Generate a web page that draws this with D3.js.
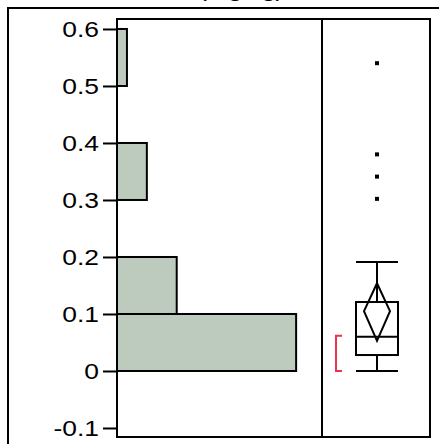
<!DOCTYPE html>
<html>
<head>
<meta charset="utf-8">
<script src="https://cdn.jsdelivr.net/npm/d3@7"></script>
<style>
  body { margin: 0; background: #fff; }
  text { font-family: "Liberation Sans", Arial, sans-serif; }
</style>
</head>
<body>
<div id="chart"></div>
<script>
// histogram bins (lower edge, upper edge, count)
const binLo = [0, 0.1, 0.3, 0.5];
const binHi = [0.1, 0.2, 0.4, 0.6];
const binCount = [18, 6, 3, 1];

// box plot summary
const whiskerLo = 0.0, q1 = 0.028, median = 0.060, q3 = 0.121, whiskerHi = 0.191;
const meanVal = 0.105, ciLo = 0.053, ciHi = 0.154;
const shortLo = 0.0, shortHi = 0.062;
const outliers = [0.540, 0.380, 0.341, 0.302];

const yTicks = [-0.1, 0, 0.1, 0.2, 0.3, 0.4, 0.5, 0.6];

const W = 439, H = 444;
const svg = d3.select("#chart").append("svg")
  .attr("width", W).attr("height", H);

// outer frame (runs off the picture)
svg.append("rect")
  .attr("x", 8).attr("y", 8).attr("width", 460).attr("height", 460)
  .attr("fill", "none").attr("stroke", "#000").attr("stroke-width", 2);

// title, mostly above the visible area
svg.append("text")
  .attr("transform", "translate(284,-3) scale(1.2,1)")
  .attr("text-anchor", "end")
  .style("font-size", "21px")
  .text("(mg/kg)");

const pLeft = 117, pMid = 322, pRight = 430, pTop = 19, pBottom = 437;

const y = d3.scaleLinear().domain([-0.1158, 0.6175]).range([pBottom, pTop]);
const x = d3.scaleLinear().domain([0, 20.6]).range([pLeft, pMid]);

// histogram bars
svg.selectAll(".bar")
  .data(binCount)
  .join("rect")
    .attr("class", "bar")
    .attr("x", x(0))
    .attr("y", (d, i) => y(binHi[i]))
    .attr("width", d => x(d) - x(0))
    .attr("height", (d, i) => y(binLo[i]) - y(binHi[i]))
    .attr("fill", "#bccbbd")
    .attr("stroke", "#000")
    .attr("stroke-width", 2);

// y axis
const yAxis = svg.append("g")
  .attr("transform", `translate(${pLeft},0)`)
  .call(d3.axisLeft(y).tickValues(yTicks).tickSize(14).tickPadding(4)
    .tickFormat(d => d === 0 ? "0" : d3.format(".1f")(d).replace("−", "-")));
yAxis.select(".domain").remove();
yAxis.selectAll("line").attr("stroke-width", 2);
yAxis.selectAll("text")
  .attr("x", null)
  .attr("dy", "0.36em")
  .attr("transform", "translate(-18,0) scale(1.2,1)")
  .style("font-size", "22px")
  .attr("fill", "#000");

// plot frames
svg.append("rect")
  .attr("x", pLeft).attr("y", pTop).attr("width", pRight - pLeft).attr("height", pBottom - pTop)
  .attr("fill", "none").attr("stroke", "#000").attr("stroke-width", 2);
svg.append("line")
  .attr("x1", pMid).attr("x2", pMid).attr("y1", pTop).attr("y2", pBottom)
  .attr("stroke", "#000").attr("stroke-width", 2);

// box plot
const cx = 377, bw = 21;
const g = svg.append("g").attr("stroke", "#000").attr("stroke-width", 2).attr("fill", "none");
g.append("line").attr("x1", cx).attr("x2", cx).attr("y1", y(whiskerHi)).attr("y2", y(q3));
g.append("line").attr("x1", cx).attr("x2", cx).attr("y1", y(q1)).attr("y2", y(whiskerLo));
g.append("line").attr("x1", cx - bw).attr("x2", cx + bw).attr("y1", y(whiskerHi)).attr("y2", y(whiskerHi));
g.append("line").attr("x1", cx - bw).attr("x2", cx + bw).attr("y1", y(whiskerLo)).attr("y2", y(whiskerLo));
g.append("rect").attr("x", cx - bw).attr("y", y(q3)).attr("width", 2 * bw).attr("height", y(q1) - y(q3));
g.append("line").attr("x1", cx - bw).attr("x2", cx + bw).attr("y1", y(median)).attr("y2", y(median));
// mean diamond
const dw = 13;
g.append("path")
  .attr("d", `M${cx},${y(ciHi)}L${cx + dw},${y(meanVal)}L${cx},${y(ciLo)}L${cx - dw},${y(meanVal)}Z`);

// shortest half bracket
svg.append("path")
  .attr("d", `M342,${y(shortHi)}H336V${y(shortLo)}H342`)
  .attr("fill", "none").attr("stroke", "#e8354c").attr("stroke-width", 2);

// outliers
svg.selectAll(".out")
  .data(outliers)
  .join("rect")
    .attr("class", "out")
    .attr("x", cx - 2).attr("y", d => y(d) - 2)
    .attr("width", 4).attr("height", 4)
    .attr("fill", "#000");
</script>
</body>
</html>
